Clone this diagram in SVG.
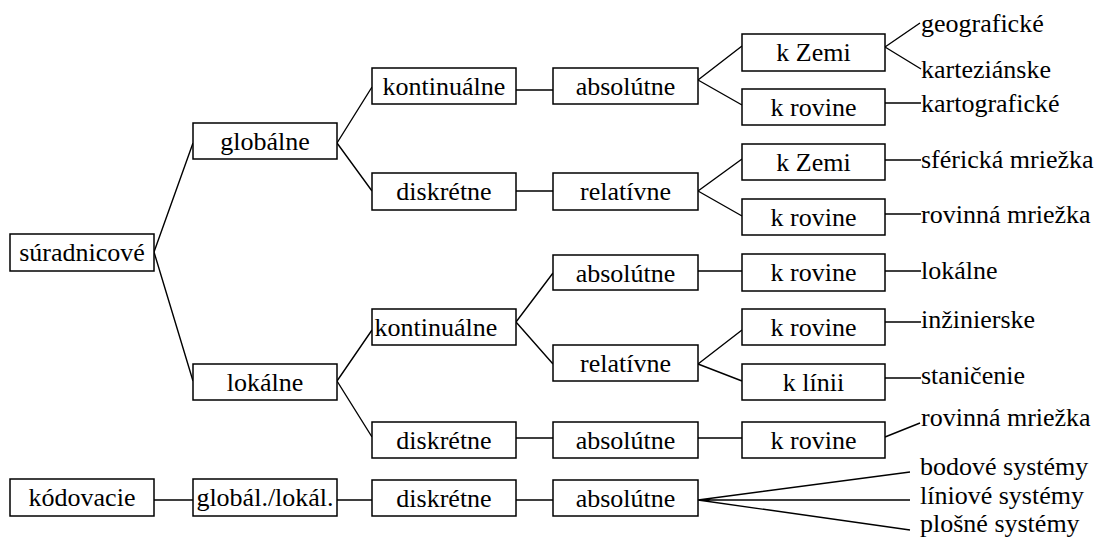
<svg xmlns="http://www.w3.org/2000/svg" width="1099" height="547" viewBox="0 0 1099 547">
<style>
rect{fill:#fff;stroke:#000;stroke-width:1.5}
text{font-family:"Liberation Serif","Times New Roman",serif;font-size:26px;fill:#000}
.c{text-anchor:middle}
#connectors path{fill:none;stroke:#000;stroke-width:1.4}
</style>
<rect x="0" y="0" width="1099" height="547" style="stroke:none"/>
<g id="connectors">
<path d="M154,252 L193,143 M154,252 L193,381"/>
<path d="M337,143 L372,87 M337,143 L372,191"/>
<path d="M516,90 H553 M516,191 H553"/>
<path d="M698,80 L742,46 M698,80 L742,105"/>
<path d="M698,191 L742,159 M698,191 L742,216"/>
<path d="M885,47 L920,23 M885,47 L921,69"/>
<path d="M885,103 H921 M885,160 H921 M885,214 H921"/>
<path d="M337,381 L372,330 M337,381 L372,437"/>
<path d="M516,322 L553,273 M516,322 L553,364"/>
<path d="M698,271 H742 M885,271 H921"/>
<path d="M698,364 L742,330 M698,364 L742,381"/>
<path d="M885,322 H921 M885,378 H921"/>
<path d="M516,438 H553 M698,438 H742"/>
<path d="M885,437 L920,423"/>
<path d="M154,500 H193 M337,500 H372 M516,500 H553"/>
<path d="M698,500 L910,472 M698,500 H910 M698,500 L910,530"/>
</g>
<g id="n-suradnicove"><rect x="10" y="234" width="144" height="37"/><text class="c" x="82" y="261">súradnicové</text></g>
<g id="n-globalne"><rect x="193" y="123" width="144" height="36"/><text class="c" x="265" y="150">globálne</text></g>
<g id="n-lokalne"><rect x="193" y="364" width="144" height="36"/><text class="c" x="265" y="391">lokálne</text></g>
<g id="n-kodovacie"><rect x="10" y="479" width="144" height="37"/><text class="c" x="82" y="506">kódovacie</text></g>
<g id="n-globlok"><rect x="193" y="479" width="144" height="37"/><text class="c" x="265" y="506">globál./lokál.</text></g>
<g id="n-g-kont"><rect x="372" y="68" width="144" height="36"/><text class="c" x="444" y="95">kontinuálne</text></g>
<g id="n-g-disk"><rect x="372" y="173" width="144" height="37"/><text class="c" x="444" y="200">diskrétne</text></g>
<g id="n-l-kont"><rect x="372" y="309" width="144" height="36"/><text class="c" x="436" y="336">kontinuálne</text></g>
<g id="n-l-disk"><rect x="372" y="422" width="144" height="36"/><text class="c" x="444" y="449">diskrétne</text></g>
<g id="n-k-disk"><rect x="372" y="480" width="144" height="36"/><text class="c" x="444" y="507">diskrétne</text></g>
<g id="n-g-abs"><rect x="553" y="68" width="145" height="36"/><text class="c" x="625.5" y="95">absolútne</text></g>
<g id="n-g-rel"><rect x="553" y="173" width="145" height="37"/><text class="c" x="625.5" y="200">relatívne</text></g>
<g id="n-l-abs"><rect x="553" y="255" width="145" height="35"/><text class="c" x="625.5" y="282">absolútne</text></g>
<g id="n-l-rel"><rect x="553" y="345" width="145" height="36"/><text class="c" x="625.5" y="372">relatívne</text></g>
<g id="n-l-disk-abs"><rect x="553" y="422" width="145" height="36"/><text class="c" x="625.5" y="449">absolútne</text></g>
<g id="n-k-abs"><rect x="553" y="480" width="145" height="36"/><text class="c" x="625.5" y="507">absolútne</text></g>
<g id="n-kzemi1"><rect x="742" y="34" width="143" height="37"/><text class="c" x="813.5" y="61">k Zemi</text></g>
<g id="n-krov1"><rect x="742" y="89" width="143" height="36"/><text class="c" x="813.5" y="116">k rovine</text></g>
<g id="n-kzemi2"><rect x="742" y="144" width="143" height="36"/><text class="c" x="813.5" y="171">k Zemi</text></g>
<g id="n-krov2"><rect x="742" y="199" width="143" height="36"/><text class="c" x="813.5" y="226">k rovine</text></g>
<g id="n-krov3"><rect x="742" y="254" width="143" height="37"/><text class="c" x="813.5" y="281">k rovine</text></g>
<g id="n-krov4"><rect x="742" y="309" width="143" height="36"/><text class="c" x="813.5" y="336">k rovine</text></g>
<g id="n-klinii"><rect x="742" y="364" width="143" height="36"/><text class="c" x="813.5" y="391">k línii</text></g>
<g id="n-krov5"><rect x="742" y="422" width="143" height="36"/><text class="c" x="813.5" y="449">k rovine</text></g>
<g id="l-geograficke"><text x="921" y="32">geografické</text></g>
<g id="l-kartezianske"><text x="921" y="78">karteziánske</text></g>
<g id="l-kartograficke"><text x="921" y="112">kartografické</text></g>
<g id="l-sfericka"><text x="921" y="168">sférická mriežka</text></g>
<g id="l-rovinna1"><text x="921" y="223">rovinná mriežka</text></g>
<g id="l-lokalne"><text x="921" y="279">lokálne</text></g>
<g id="l-inzinierske"><text x="921" y="328">inžinierske</text></g>
<g id="l-stanicenie"><text x="921" y="384">staničenie</text></g>
<g id="l-rovinna2"><text x="921" y="426">rovinná mriežka</text></g>
<g id="l-bodove"><text x="920" y="475">bodové systémy</text></g>
<g id="l-liniove"><text x="920" y="504">líniové systémy</text></g>
<g id="l-plosne"><text x="920" y="532">plošné systémy</text></g>
</svg>
